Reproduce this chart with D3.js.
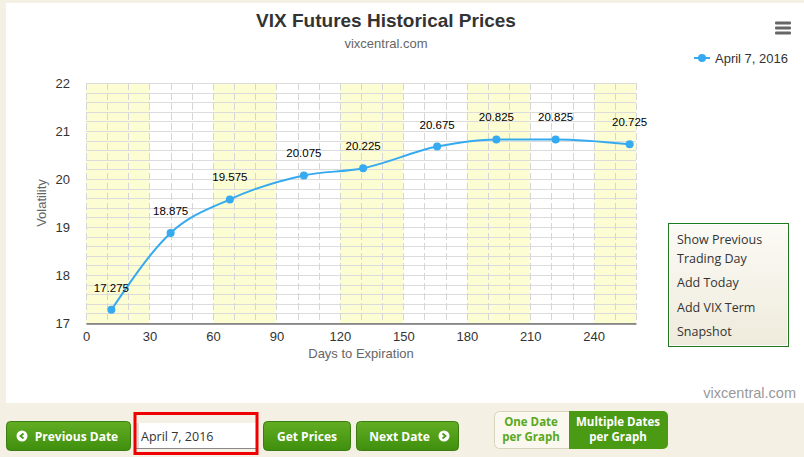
<!DOCTYPE html>
<html>
<head>
<meta charset="utf-8">
<script src="https://d3js.org/d3.v7.min.js"></script>
<style>
  body { margin: 0; background: #f4f1e4; }
  svg { display: block; }
</style>
</head>
<body>
<svg id="vis"></svg>
<script>
  // Data
  var days = [12, 40, 68, 103, 131, 166, 194, 222, 257]
  var prices = [17.275, 18.875, 19.575, 20.075, 20.225, 20.675, 20.825, 20.825, 20.725]
  var xTicks = [0, 30, 60, 90, 120, 150, 180, 210, 240]
  var yTicks = [17, 18, 19, 20, 21, 22]
  var seriesName = 'April 7, 2016'
  var menuItems = ['Show Previous', 'Trading Day', 'Add Today', 'Add VIX Term', 'Snapshot']

  var points = days.map(function(d, i) { return {x: d, y: prices[i]} })

  var W = 804, H = 457
  var svg = d3.select('#vis').attr('width', W).attr('height', H)
  var font = 'Liberation Sans, Arial, sans-serif'

  var defs = svg.append('defs')
  var g1 = defs.append('linearGradient').attr('id', 'btn').attr('x1', 0).attr('y1', 0).attr('x2', 0).attr('y2', 1)
  g1.append('stop').attr('offset', '0%').attr('stop-color', '#62ad22')
  g1.append('stop').attr('offset', '100%').attr('stop-color', '#3f8f0e')
  var g2 = defs.append('linearGradient').attr('id', 'panel').attr('x1', 0).attr('y1', 0).attr('x2', 0).attr('y2', 1)
  g2.append('stop').attr('offset', '0%').attr('stop-color', '#fbfaf5')
  g2.append('stop').attr('offset', '100%').attr('stop-color', '#efebdc')

  // page + chart background
  svg.append('rect').attr('width', W).attr('height', H).attr('fill', '#f4f1e4')
  svg.append('rect').attr('x', 6).attr('y', 3).attr('width', 798).attr('height', 400).attr('fill', '#ffffff')

  // Scales
  var x = d3.scaleLinear().domain([0, 260]).range([86, 636])
  var y = d3.scaleLinear().domain([17, 22]).range([323, 83])

  // yellow bands every other 30 days
  var bandStarts = d3.range(0, 260, 60)
  svg.selectAll('.band').data(bandStarts).enter().append('rect')
  .attr('x', function(d) { return x(d) })
  .attr('y', y(22))
  .attr('width', function(d) { return x(Math.min(d + 30, 260)) - x(d) })
  .attr('height', y(17) - y(22))
  .attr('fill', '#fdfdd3')

  // grid
  svg.selectAll('.hgrid').data(d3.range(17, 22.01, 0.2)).enter().append('line')
  .attr('x1', x(0)).attr('x2', x(260))
  .attr('y1', function(d) { return Math.round(y(d)) + 0.5 })
  .attr('y2', function(d) { return Math.round(y(d)) + 0.5 })
  .attr('stroke', '#dcdcdc')

  svg.selectAll('.vgrid').data(d3.range(0, 261, 10)).enter().append('line')
  .attr('x1', function(d) { return Math.round(x(d)) + 0.5 })
  .attr('x2', function(d) { return Math.round(x(d)) + 0.5 })
  .attr('y1', y(22)).attr('y2', y(17))
  .attr('stroke', '#d6d6d6')
  .attr('stroke-dasharray', '7,3')

  // axes
  var xAxis = svg.append('g').attr('transform', 'translate(0,' + (y(17) + 0.5) + ')')
  .call(d3.axisBottom(x).tickValues(xTicks).tickSize(0).tickPadding(8))
  xAxis.select('.domain').attr('stroke', '#333')
  xAxis.selectAll('text').attr('font-family', font).attr('font-size', 13).attr('fill', '#333')

  var yAxis = svg.append('g').attr('transform', 'translate(' + x(0) + ',0)')
  .call(d3.axisLeft(y).tickValues(yTicks).tickFormat(d3.format('d')).tickSize(0).tickPadding(16))
  yAxis.select('.domain').remove()
  yAxis.selectAll('text').attr('font-family', font).attr('font-size', 13).attr('fill', '#333')

  svg.append('text').attr('x', 361).attr('y', 358).attr('text-anchor', 'middle')
  .attr('font-family', font).attr('font-size', 13).attr('fill', '#666').text('Days to Expiration')

  svg.append('text').attr('transform', 'translate(46,203) rotate(-90)').attr('text-anchor', 'middle')
  .attr('font-family', font).attr('font-size', 13).attr('fill', '#666').text('Volatility')

  // series
  var line = d3.line().x(function(d) { return x(d.x) }).y(function(d) { return y(d.y) }).curve(d3.curveMonotoneX)
  svg.append('path').attr('d', line(points)).attr('fill', 'none').attr('stroke', '#35aaf0').attr('stroke-width', 2)

  svg.selectAll('.pt').data(points).enter().append('circle')
  .attr('cx', function(d) { return x(d.x) })
  .attr('cy', function(d) { return y(d.y) })
  .attr('r', 4).attr('fill', '#35aaf0')

  svg.selectAll('.lbl').data(points).enter().append('text')
  .attr('x', function(d) { return x(d.x) })
  .attr('y', function(d) { return y(d.y) - 18 })
  .attr('text-anchor', 'middle').attr('font-family', font).attr('font-size', 11.5).attr('fill', '#000')
  .text(function(d) { return d3.format('.3f')(d.y) })

  // title
  svg.append('text').attr('x', 386).attr('y', 27).attr('text-anchor', 'middle')
  .attr('font-family', font).attr('font-size', 19).attr('font-weight', 'bold').attr('fill', '#333')
  .text('VIX Futures Historical Prices')
  svg.append('text').attr('x', 386).attr('y', 48).attr('text-anchor', 'middle')
  .attr('font-family', font).attr('font-size', 13).attr('fill', '#666').text('vixcentral.com')

  // legend
  svg.append('line').attr('x1', 694).attr('x2', 710).attr('y1', 58).attr('y2', 58).attr('stroke', '#35aaf0').attr('stroke-width', 2)
  svg.append('circle').attr('cx', 702).attr('cy', 58).attr('r', 4).attr('fill', '#35aaf0')
  svg.append('text').attr('x', 715).attr('y', 63).attr('font-family', font).attr('font-size', 13).attr('fill', '#333').text(seriesName)

  // menu icon
  svg.selectAll('.menu').data([0, 1, 2]).enter().append('rect')
  .attr('x', 775).attr('y', function(d) { return 21.5 + d * 5 }).attr('width', 16).attr('height', 3).attr('rx', 1).attr('fill', '#666')

  // side panel
  svg.append('rect').attr('x', 668.5).attr('y', 223.5).attr('width', 120).attr('height', 123)
  .attr('fill', '#ffffff').attr('stroke', '#1e7a1e')
  svg.append('rect').attr('x', 670).attr('y', 225).attr('width', 117).attr('height', 120).attr('rx', 3)
  .attr('fill', 'url(#panel)')
  var menuY = [244, 263, 287, 312, 336]
  svg.selectAll('.mi').data(menuItems).enter().append('text')
  .attr('x', 677).attr('y', function(d, i) { return menuY[i] })
  .attr('font-family', 'Open Sans, sans-serif').attr('font-size', 12.5).attr('fill', '#333')
  .text(function(d) { return d })

  svg.append('text').attr('x', 796).attr('y', 398).attr('text-anchor', 'end')
  .attr('font-family', font).attr('font-size', 14.5).attr('fill', '#999').text('vixcentral.com')

  // bottom controls
  var bfont = 'Open Sans, sans-serif'
  function button(x0, x1, label, icon) {
    svg.append('rect').attr('x', x0 + 0.5).attr('y', 421.5).attr('width', x1 - x0 - 1).attr('height', 29).attr('rx', 4)
    .attr('fill', 'url(#btn)').attr('stroke', '#3b7d12')
    var tx = (x0 + x1) / 2
    if (icon === 'left') tx += 8
    if (icon === 'right') tx -= 8
    svg.append('text').attr('x', tx).attr('y', 441).attr('text-anchor', 'middle')
    .attr('font-family', bfont).attr('font-size', 12).attr('font-weight', 'bold').attr('fill', '#fff').text(label)
    if (icon) {
      var cx = icon === 'left' ? x0 + 16 : x1 - 15
      svg.append('circle').attr('cx', cx).attr('cy', 436).attr('r', 5.5).attr('fill', '#fff')
      var pts = icon === 'left' ? [[1.5, -2.5], [-1.5, 0], [1.5, 2.5]] : [[-1.5, -2.5], [1.5, 0], [-1.5, 2.5]]
      svg.append('path').attr('d', d3.line()(pts.map(function(p) { return [cx + p[0], 436 + p[1]] })))
      .attr('fill', 'none').attr('stroke', '#4a9a18').attr('stroke-width', 1.8)
    }
  }
  button(6, 131, 'Previous Date', 'left')
  button(263, 351, 'Get Prices')
  button(356, 459, 'Next Date', 'right')

  // date input with red highlight
  svg.append('rect').attr('x', 136).attr('y', 423).attr('width', 121).attr('height', 26).attr('fill', '#fff')
  svg.append('rect').attr('x', 136).attr('y', 423).attr('width', 3).attr('height', 26).attr('fill', '#ddd')
  svg.append('line').attr('x1', 136).attr('x2', 257).attr('y1', 448.5).attr('y2', 448.5).attr('stroke', '#888')
  svg.append('text').attr('x', 141).attr('y', 441).attr('font-family', bfont).attr('font-size', 12.5).attr('fill', '#333').text(seriesName)
  svg.append('rect').attr('x', 135).attr('y', 413.5).attr('width', 122).attr('height', 40)
  .attr('fill', 'none').attr('stroke', '#ee0000').attr('stroke-width', 3)

  // toggle
  svg.append('rect').attr('x', 494.5).attr('y', 411.5).attr('width', 90).attr('height', 37).attr('rx', 5)
  .attr('fill', '#faf8ef').attr('stroke', '#d8d3bd')
  svg.append('rect').attr('x', 569).attr('y', 411).attr('width', 99).attr('height', 38).attr('rx', 5).attr('fill', '#4a9a14')
  svg.append('rect').attr('x', 569).attr('y', 411).attr('width', 10).attr('height', 38).attr('fill', '#4a9a14')
  var tog = [
    {x: 531, lines: ['One Date', 'per Graph'], fill: '#5aa820'},
    {x: 618, lines: ['Multiple Dates', 'per Graph'], fill: '#fff'}
  ]
  tog.forEach(function(t) {
    t.lines.forEach(function(l, i) {
      svg.append('text').attr('x', t.x).attr('y', 426 + i * 15).attr('text-anchor', 'middle')
      .attr('font-family', bfont).attr('font-size', 11.5).attr('font-weight', 'bold').attr('fill', t.fill).text(l)
    })
  })
</script>
</body>
</html>
